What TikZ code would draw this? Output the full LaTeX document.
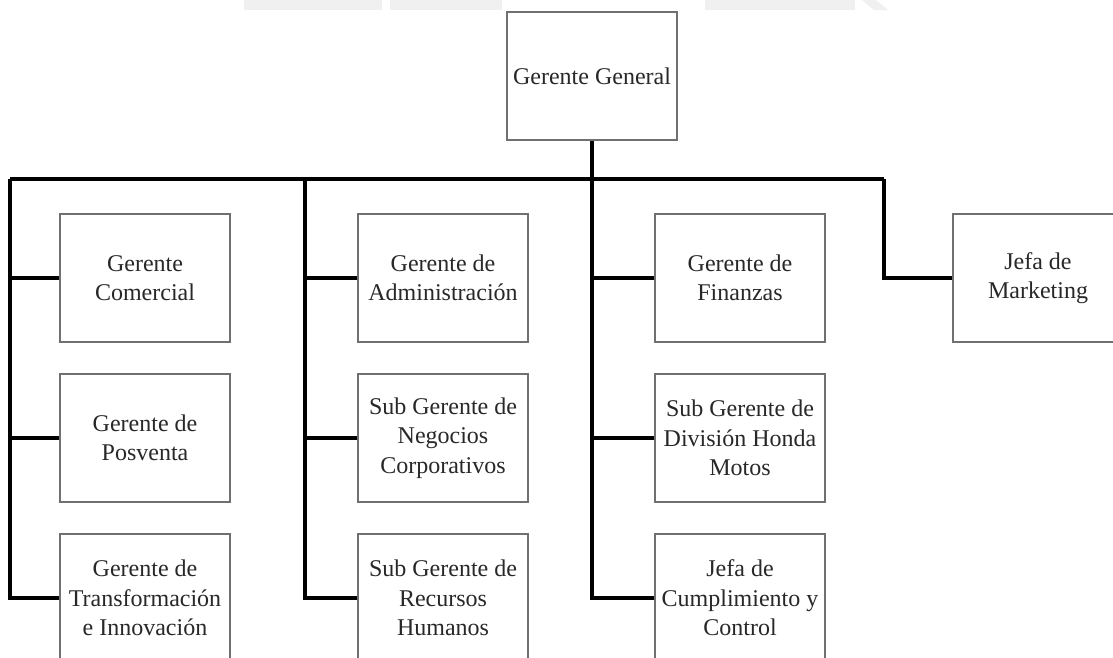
\documentclass[tikz,border=0pt]{standalone}
\usepackage{fontspec}
\setmainfont{Liberation Serif}
\definecolor{boxline}{RGB}{112,112,112}
\definecolor{inktext}{RGB}{40,40,40}
\definecolor{haze}{RGB}{240,240,240}
\tikzset{
  orgbox/.style={draw=boxline, line width=1.5pt, fill=white, minimum width=170pt,
    minimum height=128pt, inner sep=0pt, align=center, text=inktext,
    font=\fontsize{24}{29.5}\selectfont},
  link/.style={draw=black, line width=3.2pt, line join=miter}
}
\begin{document}
\begin{tikzpicture}[x=1pt,y=-1pt]
\useasboundingbox (0,0) rectangle (1113,657);
\clip (0,0) rectangle (1113,657);
% faint band along the top edge
\fill[haze] (244,0) rectangle (382,10);
\fill[haze] (390,0) rectangle (502,10);
\fill[haze] (705,0) rectangle (855,10);
\fill[haze] (862,0) -- (876,0) -- (888,10) -- (874,10) -- cycle;

% top of the chart
\node[orgbox] (gg) at (592,76) {Gerente General};

% first column
\node[orgbox] (a1) at (145,278) {Gerente\\Comercial};
\node[orgbox] (a2) at (145,438) {Gerente de\\Posventa};
\node[orgbox] (a3) at (145,598) {Gerente de\\Transformación\\e Innovación};

% second column
\node[orgbox] (b1) at (443,278) {Gerente de\\Administración};
\node[orgbox] (b2) at (443,438) {Sub Gerente de\\Negocios\\Corporativos};
\node[orgbox] (b3) at (443,598) {Sub Gerente de\\Recursos\\Humanos};

% third column
\node[orgbox] (c1) at (740,278) {Gerente de\\Finanzas};
\node[orgbox] (c2) at (740,438) {Sub Gerente de\\División Honda\\Motos};
\node[orgbox] (c3) at (740,598) {Jefa de\\Cumplimiento y\\Control};

% fourth column
\node[orgbox] (d1) at (1038,278) {Jefa de\\Marketing};

% bus line and column drops
\coordinate (busA) at (10,179);
\coordinate (busB) at (305,179);
\coordinate (busC) at (592,179);
\coordinate (busD) at (884,179);

\draw[link] (gg.south) -- (busC);
\draw[link] (busA) -- (busD);

\draw[link] (busA) |- (a3.west);
\draw[link] (busA |- a1.west) -- (a1.west);
\draw[link] (busA |- a2.west) -- (a2.west);

\draw[link] (busB) |- (b3.west);
\draw[link] (busB |- b1.west) -- (b1.west);
\draw[link] (busB |- b2.west) -- (b2.west);

\draw[link] (busC) |- (c3.west);
\draw[link] (busC |- c1.west) -- (c1.west);
\draw[link] (busC |- c2.west) -- (c2.west);

\draw[link] (busD) |- (d1.west);
\end{tikzpicture}
\end{document}
